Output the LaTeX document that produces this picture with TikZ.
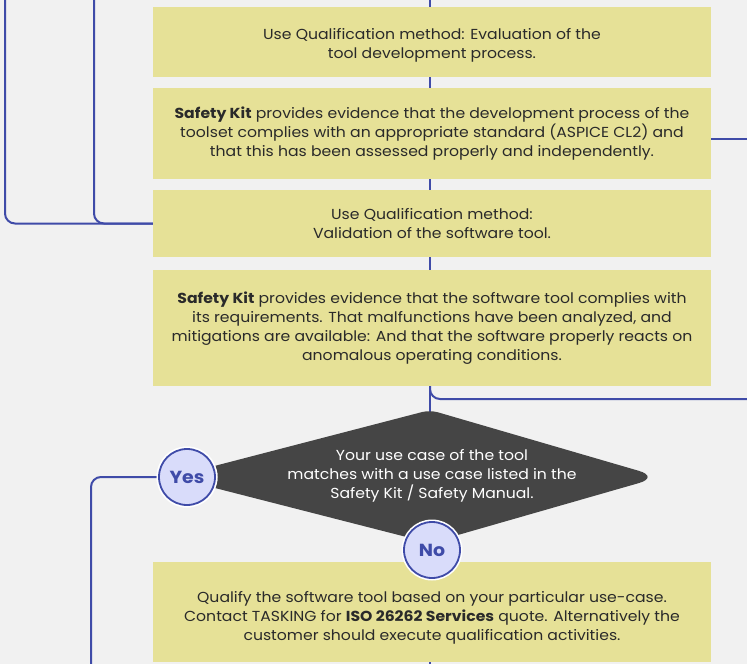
\documentclass[tikz,border=0pt]{standalone}
\usepackage{fontspec}
\setmainfont{Poppins}[FakeStretch=1.08]
\usetikzlibrary{calc}
\definecolor{bg}{HTML}{F1F1F1}
\definecolor{ybox}{HTML}{E6E197}
\definecolor{lblue}{HTML}{3F4BA8}
\definecolor{dgray}{HTML}{454545}
\definecolor{cfill}{HTML}{D9DCFA}
\definecolor{txt}{HTML}{2A2A2A}
\begin{document}
\begin{tikzpicture}[x=1pt,y=-1pt,
  ybx/.style={fill=ybox, minimum width=558pt, inner sep=0pt, align=center,
    font=\fontsize{14.5}{19.2}\selectfont, text=txt},
  conn/.style={draw=lblue, line width=2pt, rounded corners=10pt},
  yn/.style={circle, draw=lblue, fill=cfill, line width=1.8pt, minimum size=56pt,
    inner sep=0pt, font=\fontsize{17.5}{17.5}\selectfont\bfseries, text=lblue,
    preaction={draw=white, line width=5pt}}]
\fill[bg] (0,0) rectangle (747,664);
\useasboundingbox (0,0) rectangle (747,664);
\coordinate (cx) at (430,0);
\coordinate (L1) at (5,0);
\coordinate (L2) at (94,0);
\coordinate (R1) at (747,139);
\coordinate (R2) at (747,399);
\coordinate (dtop) at (430,412);
\coordinate (Ybot) at (91,664);
\coordinate (B) at (430,664);

% boxes
\node[ybx, minimum height=70pt] (b1) at (432,42)
  {\rule{0pt}{18pt}Use Qualification method: Evaluation of the\\tool development process.};
\node[ybx, minimum height=91pt] (b2) at (432,133.5)
  {\textbf{Safety Kit} provides evidence that the development process of the\\
   toolset complies with an appropriate standard (ASPICE CL2) and\\
   that this has been assessed properly and independently.};
\node[ybx, minimum height=67pt] (b3) at (432,223.5)
  {Use Qualification method:\\Validation of the software tool.};
\node[ybx, minimum height=116pt] (b4) at (432,328)
  {\textbf{Safety Kit} provides evidence that the software tool complies with\\
   its requirements. That malfunctions have been analyzed, and\\
   mitigations are available: And that the software properly reacts on\\
   anomalous operating conditions.};
\node[ybx, minimum height=100pt] (b5) at (432,612)
  {\rule{0pt}{23pt}Qualify the software tool based on your particular use-case.\\
   Contact TASKING for \textbf{ISO 26262 Services} quote. Alternatively the\\
   customer should execute qualification activities.};

% connectors
\draw[conn] (cx) -- (b1.north -| cx);
\draw[conn] (b1.south -| cx) -- (b2.north -| cx);
\draw[conn] (b2.south -| cx) -- (b3.north -| cx);
\draw[conn] (b3.south -| cx) -- (b4.north -| cx);
\draw[conn] (b4.south -| cx) -- (dtop);
\draw[conn] (b4.south -| cx) |- (R2);
\draw[conn] (b5.south -| cx) -- (B);
\draw[conn] (L1) |- (b3.west);
\draw[conn] (L2) |- (b3.west);
\draw[conn] (b2.east |- R1) -- (R1);

% decision
\fill[dgray, rounded corners=8pt] (172,477) -- (430,410)
  [rounded corners=22pt] -- (660,477) [rounded corners=8pt] -- (430,543) -- cycle;
\node[text=white, align=center, font=\fontsize{14.5}{19.2}\selectfont] (dec) at (432,476)
  {Your use case of the tool\\matches with a use case listed in the\\Safety Kit / Safety Manual.};

\node[yn] (yes) at (187,477) {Yes};
\node[yn] (no) at (432,550) {No};
\draw[conn] (yes.west) -| (Ybot);
\node[yn] at (yes) {Yes};
\end{tikzpicture}
\end{document}
